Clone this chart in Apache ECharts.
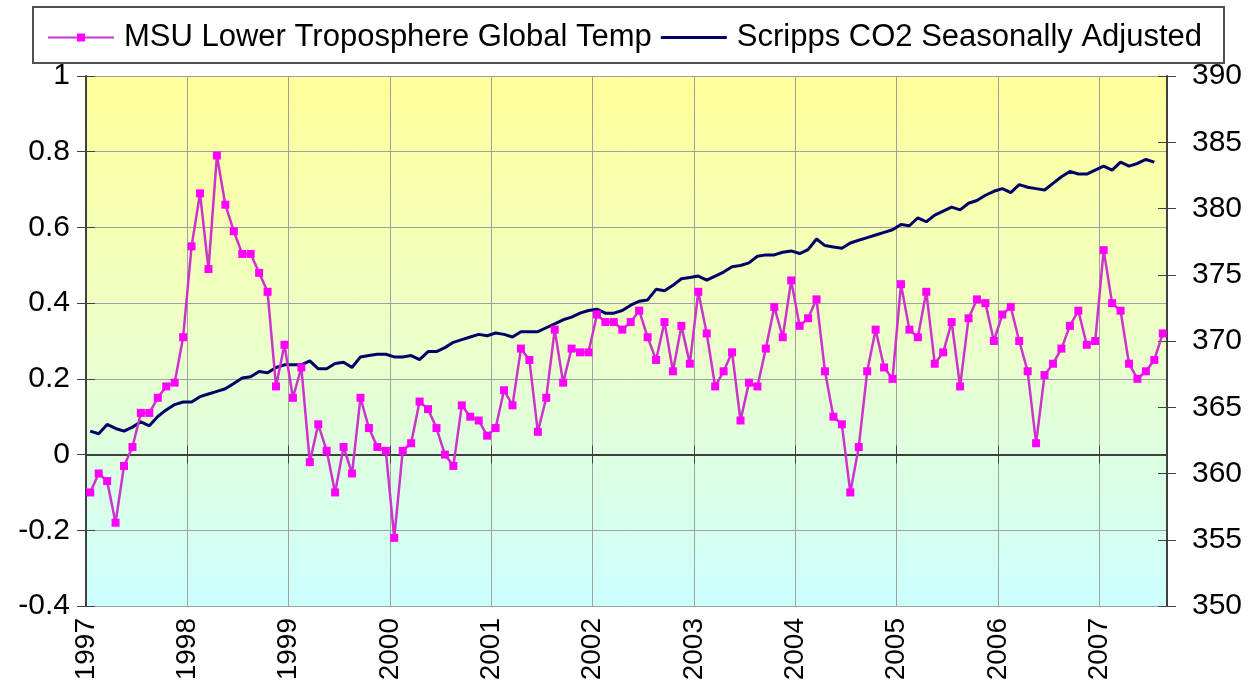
<!DOCTYPE html>
<html>
<head>
<meta charset="utf-8">
<script src="https://cdn.jsdelivr.net/npm/echarts@6/dist/echarts.min.js"></script>
<style>
html,body{margin:0;padding:0;background:#fff;}
#chart{width:1258px;height:691px;}
</style>
</head>
<body>
<div id="chart"></div>
<script>
// Monthly categories Jan 1997 .. Aug 2007
const startYear = 1997;
const monthCount = 128;
const months = [];
for (let i = 0; i < monthCount; i++) {
  const y = startYear + Math.floor(i / 12);
  const m = (i % 12) + 1;
  months.push(y + '-' + (m < 10 ? '0' + m : m));
}

// MSU lower troposphere global temperature anomaly (deg C)
const msuTemp = [
  -0.10, -0.05, -0.07, -0.18, -0.03, 0.02, 0.11, 0.11, 0.15, 0.18, 0.19, 0.31,
  0.55, 0.69, 0.49, 0.79, 0.66, 0.59, 0.53, 0.53, 0.48, 0.43, 0.18, 0.29,
  0.15, 0.23, -0.02, 0.08, 0.01, -0.10, 0.02, -0.05, 0.15, 0.07, 0.02, 0.01,
  -0.22, 0.01, 0.03, 0.14, 0.12, 0.07, 0.00, -0.03, 0.13, 0.10, 0.09, 0.05,
  0.07, 0.17, 0.13, 0.28, 0.25, 0.06, 0.15, 0.33, 0.19, 0.28, 0.27, 0.27,
  0.37, 0.35, 0.35, 0.33, 0.35, 0.38, 0.31, 0.25, 0.35, 0.22, 0.34, 0.24,
  0.43, 0.32, 0.18, 0.22, 0.27, 0.09, 0.19, 0.18, 0.28, 0.39, 0.31, 0.46,
  0.34, 0.36, 0.41, 0.22, 0.10, 0.08, -0.10, 0.02, 0.22, 0.33, 0.23, 0.20,
  0.45, 0.33, 0.31, 0.43, 0.24, 0.27, 0.35, 0.18, 0.36, 0.41, 0.40, 0.30,
  0.37, 0.39, 0.30, 0.22, 0.03, 0.21, 0.24, 0.28, 0.34, 0.38, 0.29, 0.30,
  0.54, 0.40, 0.38, 0.24, 0.20, 0.22, 0.25, 0.32
];

// Scripps CO2 seasonally adjusted (ppm)
const co2 = [
  363.2, 363.0, 363.7, 363.4, 363.2, 363.5, 363.9, 363.6, 364.3, 364.8, 365.2, 365.4,
  365.4, 365.8, 366.0, 366.2, 366.4, 366.8, 367.2, 367.3, 367.7, 367.6, 368.0, 368.2,
  368.2, 368.2, 368.5, 367.9, 367.9, 368.3, 368.4, 368.0, 368.8, 368.9, 369.0, 369.0,
  368.8, 368.8, 368.9, 368.6, 369.2, 369.2, 369.5, 369.9, 370.1, 370.3, 370.5, 370.4,
  370.6, 370.5, 370.3, 370.7, 370.7, 370.7, 371.0, 371.3, 371.6, 371.8, 372.1, 372.3,
  372.4, 372.1, 372.1, 372.3, 372.7, 373.0, 373.1, 373.9, 373.8, 374.2, 374.7, 374.8,
  374.9, 374.6, 374.9, 375.2, 375.6, 375.7, 375.9, 376.4, 376.5, 376.5, 376.7, 376.8,
  376.6, 376.9, 377.7, 377.2, 377.1, 377.0, 377.4, 377.6, 377.8, 378.0, 378.2, 378.4,
  378.8, 378.7, 379.3, 379.0, 379.5, 379.8, 380.1, 379.9, 380.4, 380.6, 381.0, 381.3,
  381.5, 381.2, 381.8, 381.6, 381.5, 381.4, 381.9, 382.4, 382.8, 382.6, 382.6, 382.9,
  383.2, 382.9, 383.5, 383.2, 383.4, 383.7, 383.5
];

const seriesNames = ['MSU Lower Troposphere Global Temp', 'Scripps CO2 Seasonally Adjusted'];

// month label -> decimal year at mid-month
function monthToX(label) {
  const p = label.split('-');
  return Number(p[0]) + (Number(p[1]) - 0.5) / 12;
}
const xMin = startYear;
const xMax = startYear + monthCount / 12;

const tempData = msuTemp.map((v, i) => [monthToX(months[i]), v]);
const co2Data = co2.map((v, i) => [monthToX(months[i]), v]);

const FONT = 'Liberation Sans, Arial, sans-serif';
const axisColor = '#404040';
const gridColor = '#a0a0a0';

const chart = echarts.init(document.getElementById('chart'));
chart.setOption({
  animation: false,
  textStyle: { fontFamily: FONT },
  graphic: [{
    type: 'rect',
    left: 32, top: 6,
    shape: { width: 1191, height: 56 },
    style: { fill: '#fff', stroke: '#505050', lineWidth: 2 },
    z: -1
  }],
  legend: {
    left: 42, top: 17,
    itemWidth: 66, itemHeight: 10, itemGap: 9,
    selectedMode: false,
    textStyle: { fontSize: 31, color: '#000', fontFamily: FONT, padding: [0, 0, 0, 5] },
    data: [
      { name: seriesNames[0] },
      { name: seriesNames[1], icon: 'path://M0,0 L66,0 L66,3 L0,3 Z', itemStyle: { color: '#000066' } }
    ]
  },
  grid: {
    left: 86, right: 91, top: 76, bottom: 85,
    show: true,
    borderWidth: 0,
    backgroundColor: new echarts.graphic.LinearGradient(0, 0, 0, 1, [
      { offset: 0, color: '#FFFF99' },
      { offset: 0.45, color: '#EEFFC4' },
      { offset: 1, color: '#CCFFFF' }
    ])
  },
  xAxis: [{
    type: 'value', min: xMin, max: xMax, interval: 1,
    axisLine: { show: true, lineStyle: { color: axisColor, width: 2 } },
    axisTick: { show: true, length: 9, lineStyle: { color: axisColor, width: 1 } },
    axisLabel: {
      rotate: 90, fontSize: 28, color: '#000', margin: 12, fontFamily: FONT,
      formatter: v => (Math.abs(v - Math.round(v)) < 1e-6 ? String(Math.round(v)) : ''),
      showMaxLabel: false
    },
    splitLine: { show: true, lineStyle: { color: gridColor, width: 1 } }
  }, {
    type: 'value', min: xMin, max: xMax, interval: 1, position: 'bottom',
    axisLine: { show: false },
    axisTick: { show: true, inside: true, length: 9, lineStyle: { color: axisColor, width: 1 } },
    axisLabel: { show: false },
    splitLine: { show: false }
  }],
  yAxis: [{
    type: 'value', min: -0.4, max: 1, interval: 0.2, position: 'left',
    axisLine: { show: true, lineStyle: { color: axisColor, width: 2 } },
    axisTick: { show: true, length: 9, lineStyle: { color: axisColor, width: 1 } },
    axisLabel: {
      fontSize: 30, color: '#000', margin: 16, fontFamily: FONT,
      formatter: v => String(Math.round(v * 10) / 10)
    },
    splitLine: { show: true, lineStyle: { color: gridColor, width: 1 } }
  }, {
    type: 'value', min: 350, max: 390, interval: 5, position: 'right',
    axisLine: { show: true, lineStyle: { color: axisColor, width: 2 } },
    axisTick: { show: true, length: 9, lineStyle: { color: axisColor, width: 1 } },
    axisLabel: { fontSize: 30, color: '#000', margin: 25, fontFamily: FONT },
    splitLine: { show: false }
  }, {
    type: 'value', min: -0.4, max: 1, interval: 0.2, position: 'left',
    axisLine: { show: false },
    axisTick: { show: true, inside: true, length: 9, lineStyle: { color: axisColor, width: 1 } },
    axisLabel: { show: false }, splitLine: { show: false }
  }, {
    type: 'value', min: 350, max: 390, interval: 5, position: 'right',
    axisLine: { show: false },
    axisTick: { show: true, inside: true, length: 9, lineStyle: { color: axisColor, width: 1 } },
    axisLabel: { show: false }, splitLine: { show: false }
  }],
  series: [{
    name: seriesNames[0],
    type: 'line',
    xAxisIndex: 0, yAxisIndex: 0,
    data: tempData,
    symbol: 'rect', symbolSize: 8,
    itemStyle: { color: '#FF00FF' },
    lineStyle: { color: '#CC33CC', width: 2.5 },
    z: 3
  }, {
    name: seriesNames[1],
    type: 'line',
    xAxisIndex: 0, yAxisIndex: 1,
    data: co2Data,
    showSymbol: false, symbol: 'none',
    itemStyle: { color: '#000066' },
    lineStyle: { color: '#000066', width: 3 },
    z: 2
  }]
});
</script>
</body>
</html>
